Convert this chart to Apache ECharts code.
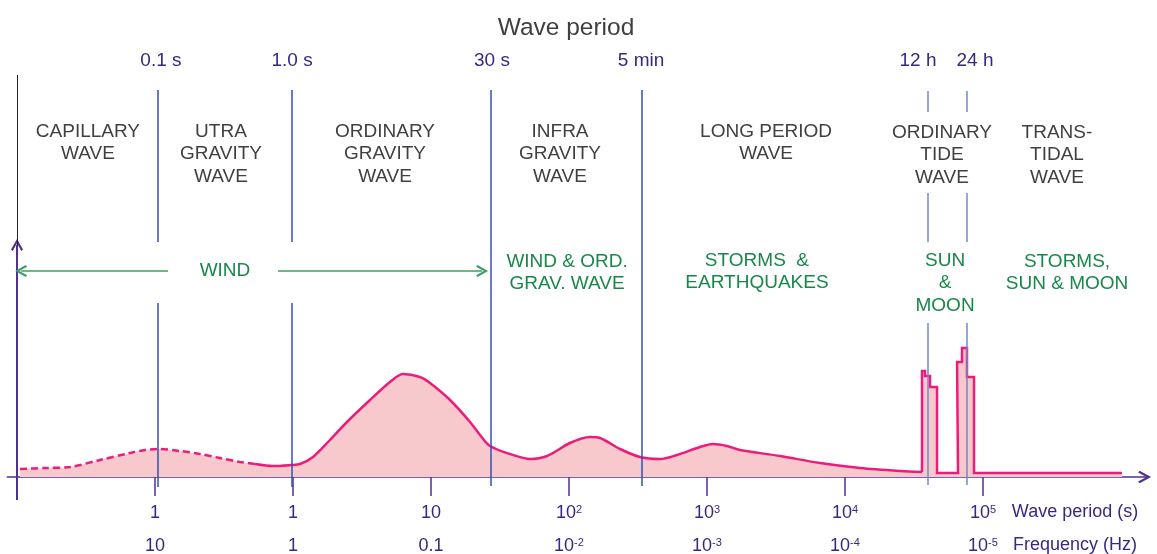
<!DOCTYPE html>
<html><head><meta charset="utf-8">
<script src="https://cdn.jsdelivr.net/npm/echarts@6/dist/echarts.min.js"></script>
<style>html,body{margin:0;padding:0;background:#fff}#c{width:1157px;height:554px}</style>
</head><body><div id="c"></div>
<script>
// ---------- DATA (x = log10 of wave period in s, y = relative energy) ----------
const tickValues = [-1, 0, 1, 2, 3, 4, 5];
const periodTickLabels = ['1', '1', '10', '10^2', '10^3', '10^4', '10^5'];
const freqTickLabels = ['10', '1', '0.1', '10^-2', '10^-3', '10^-4', '10^-5'];

const boundaryNames = ['0.1 s', '1.0 s', '30 s', '5 min', '12 h', '24 h'];
const boundaryLogT = [-0.98, -0.01, 1.43, 2.53, 4.60, 4.88];

const bandNames = ['CAPILLARY\nWAVE', 'UTRA\nGRAVITY\nWAVE', 'ORDINARY\nGRAVITY\nWAVE', 'INFRA\nGRAVITY\nWAVE', 'LONG PERIOD\nWAVE', 'ORDINARY\nTIDE\nWAVE', 'TRANS-\nTIDAL\nWAVE'];
const forceNames = ['WIND', 'WIND & ORD.\nGRAV. WAVE', 'STORMS  &\nEARTHQUAKES', 'SUN\n&\nMOON', 'STORMS,\nSUN & MOON'];
const axisNames = ['Wave period (s)', 'Frequency (Hz)'];

const dashedLogT = [-1.978, -1.797, -1.616, -1.399, -1.181, -1.072, -0.978, -0.819, -0.674, -0.529, -0.384, -0.275];
const dashedEnergy = [8, 9, 10, 17, 24, 27, 28, 26, 23, 19, 15, 13];

const spectrumLogT = [-0.275, -0.145, -0.014, 0.051, 0.145, 0.268, 0.391, 0.558, 0.703, 0.797, 0.920, 0.993, 1.138, 1.283, 1.355, 1.428, 1.572, 1.717, 1.841, 2.007, 2.152, 2.225, 2.370, 2.514, 2.659, 2.783, 2.949, 3.043, 3.145, 3.239, 3.529, 3.819, 4.109, 4.399, 4.558];
const spectrumEnergy = [13, 11, 12, 13, 20, 37, 55, 77, 95, 103, 100, 94, 77, 55, 42, 31, 23, 18, 21, 34, 40, 39, 28, 20, 18, 22, 30, 33, 31, 27, 21, 14, 9, 6, 5];

const tideLogT = [4.558, 4.558, 4.580, 4.580, 4.616, 4.616, 4.667, 4.667, 4.819, 4.812, 4.848, 4.848, 4.884, 4.884, 4.935, 4.935, 6.007];
const tideEnergy = [5, 106, 106, 101, 101, 90, 90, 4, 4, 115, 115, 129, 129, 100, 100, 4, 4];

// ---------- LAYOUT / STYLE ----------
const FONT = 'Liberation Sans, Arial, sans-serif';
const PURPLE = '#3a2784', AXIS = '#4f3190', GRAY = '#404040', GREEN = '#17884a', GREEN_LINE = '#3e9d66';
const BLUE = '#3550b0', LIGHT_BLUE = '#7388c8', MAGENTA = '#ec1c7d', FILL = '#f8c9cc';
const CHEVRON = 'path://M5,0 L10,9 L8.6,10.2 L5,3.6 L1.4,10.2 L0,9 Z';

const bandPos = [[-1.486, 334], [-0.522, 323], [0.667, 323], [1.935, 323], [3.428, 334], [4.703, 322], [5.536, 322]];
const forcePos = [[-0.493, 206], [1.986, 204], [3.362, 205], [4.725, 194], [5.609, 204]];
const boundaryLabelPos = [[-0.957, 416], [-0.007, 416], [1.442, 416], [2.522, 416], [4.529, 416], [4.942, 416]];
const axisNamePos = [[5.667, -35], [5.667, -68]];
// segments above the x axis (upper grid) and stubs below it (lower grid)
const boundarySegments = [
  [[387, 235], [174, 0]],
  [[387, 235], [174, 0]],
  [[387, 0]],
  [[387, 0]],
  [[386, 365], [284, 235], [154, 0]],
  [[386, 365], [284, 235], [154, 0]]
];
const boundaryStubs = [-10, -10, -9, -9, -8, -8];

function pair(a, b) { return a.map((x, i) => [x, b[i]]); }
function supFmt(s) { return s.replace(/^([^\^]*)(\^(-?\d+))?$/, (m, base, g, exp) => '{b|' + base + '}' + (exp ? '{s|' + exp + '}' : '')); }
function seg(x1, y1, x2, y2, style, s1, s2) {
  return [{ coord: [x1, y1], symbol: s1 || 'none', symbolSize: [12, 12], lineStyle: Object.assign({ type: 'solid' }, style) },
          { coord: [x2, y2], symbol: s2 || 'none', symbolSize: [12, 12] }];
}

const noBorder = { textBorderWidth: 0, textShadowBlur: 0, opacity: 1 };
const annotations = [];
bandNames.forEach((t, i) => annotations.push({ name: t, value: bandPos[i], label: Object.assign({ color: GRAY, fontSize: 19, lineHeight: 22.5 }, noBorder) }));
forceNames.forEach((t, i) => annotations.push({ name: t, value: forcePos[i], label: Object.assign({ color: GREEN, fontSize: 19, lineHeight: 22.5 }, noBorder) }));
boundaryNames.forEach((t, i) => annotations.push({ name: t, value: boundaryLabelPos[i], label: Object.assign({ color: PURPLE, fontSize: 19 }, noBorder) }));
const lowerAnnotations = axisNames.map((t, i) => ({ name: t, value: axisNamePos[i], label: Object.assign({ color: PURPLE, fontSize: 18 }, noBorder) }));

const guideLines = [], lowerLines = [];
boundaryLogT.forEach((x, i) => {
  const st = { color: i >= 4 ? LIGHT_BLUE : BLUE, width: 1.5 };
  boundarySegments[i].forEach(s => guideLines.push(seg(x, s[0], x, s[1], st)));
  lowerLines.push(seg(x, 0, x, boundaryStubs[i], st));
});
// y axis: purple with arrow, thin dark continuation above, short stub below x axis
guideLines.push(seg(-2, 0, -2, 232, { color: AXIS, width: 2 }, 'none', CHEVRON));
guideLines.push(seg(-2, 232, -2, 402, { color: '#222', width: 1 }));
lowerLines.push(seg(-2, 0, -2, -23, { color: AXIS, width: 2 }));
// WIND arrow
guideLines.push(seg(-1.97, 206, -0.906, 206, { color: GREEN_LINE, width: 1.5 }, CHEVRON, 'none'));
guideLines.push(seg(-0.109, 206, 1.37, 206, { color: GREEN_LINE, width: 1.5 }, 'none', CHEVRON));

const gridL = 7.34, gridR = 8.4;
const chart = echarts.init(document.getElementById('c'), null, { renderer: 'canvas' });
chart.setOption({
  animation: false,
  backgroundColor: '#fff',
  textStyle: { fontFamily: FONT },
  title: { text: 'Wave period', left: 561, top: 11, textAlign: 'center', textStyle: { fontFamily: FONT, fontSize: 24.5, fontWeight: 'normal', color: GRAY } },
  grid: [
    { left: gridL, right: gridR, top: 40, bottom: 77, containLabel: false, outerBoundsMode: 'none' },
    { left: gridL, right: gridR, top: 477, bottom: 0, containLabel: false, outerBoundsMode: 'none' }
  ],
  xAxis: [{
    gridIndex: 0, type: 'value', min: -2.07, max: 6.2, position: 'bottom',
    axisLine: { show: true, onZero: false, lineStyle: { color: AXIS, width: 1.5 }, symbol: ['none', CHEVRON], symbolSize: [13, 13], symbolOffset: [0, -4] },
    axisTick: { show: true, customValues: tickValues, length: 19, lineStyle: { color: AXIS, width: 1.5 } },
    axisLabel: {
      show: true, customValues: tickValues, margin: 20, hideOverlap: false,
      formatter: v => { const i = tickValues.indexOf(Math.round(v)); return i < 0 ? '' : supFmt(periodTickLabels[i]) + '\n' + supFmt(freqTickLabels[i]); },
      rich: {
        b: { fontFamily: FONT, fontSize: 18, color: PURPLE, lineHeight: 33 },
        s: { fontFamily: FONT, fontSize: 11, color: PURPLE, lineHeight: 20, verticalAlign: 'top', padding: [7, 0, 0, 0] }
      }
    },
    splitLine: { show: false }
  }, {
    gridIndex: 1, type: 'value', min: -2.07, max: 6.2, show: false, splitLine: { show: false }
  }],
  yAxis: [
    { gridIndex: 0, type: 'value', min: 0, max: 437, show: false, splitLine: { show: false } },
    { gridIndex: 1, type: 'value', min: -77, max: 0, show: false, splitLine: { show: false } }
  ],
  series: [
    { type: 'line', name: 'dashed', data: pair(dashedLogT, dashedEnergy), smooth: 0.3, showSymbol: false, symbol: 'none',
      lineStyle: { color: MAGENTA, width: 2.5, type: [7, 4] }, areaStyle: { color: FILL, opacity: 1 }, z: 2 },
    { type: 'line', name: 'spectrum', data: pair(spectrumLogT, spectrumEnergy), smooth: 0.3, showSymbol: false, symbol: 'none',
      lineStyle: { color: MAGENTA, width: 2.5 }, areaStyle: { color: FILL, opacity: 1 }, z: 2 },
    { type: 'line', name: 'tide', data: pair(tideLogT, tideEnergy), smooth: false, showSymbol: false, symbol: 'none',
      lineStyle: { color: MAGENTA, width: 2.5, join: 'miter' }, areaStyle: { color: FILL, opacity: 1 }, z: 2 },
    { type: 'scatter', name: 'annotations', symbolSize: 0, silent: true, z: 5, clip: false,
      data: annotations,
      label: { show: true, position: 'inside', formatter: '{b}', fontFamily: FONT, align: 'center', verticalAlign: 'middle' },
      labelLayout: { hideOverlap: false },
      markLine: { silent: true, animation: false, symbol: 'none', label: { show: false }, emphasis: { disabled: true }, data: guideLines }
    },
    { type: 'scatter', name: 'lower', xAxisIndex: 1, yAxisIndex: 1, symbolSize: 0, silent: true, z: 5, clip: false,
      data: lowerAnnotations,
      label: { show: true, position: 'inside', formatter: '{b}', fontFamily: FONT, align: 'center', verticalAlign: 'middle' },
      labelLayout: { hideOverlap: false },
      markLine: { silent: true, animation: false, symbol: 'none', label: { show: false }, emphasis: { disabled: true }, data: lowerLines }
    }
  ]
});
</script>
</body></html>
